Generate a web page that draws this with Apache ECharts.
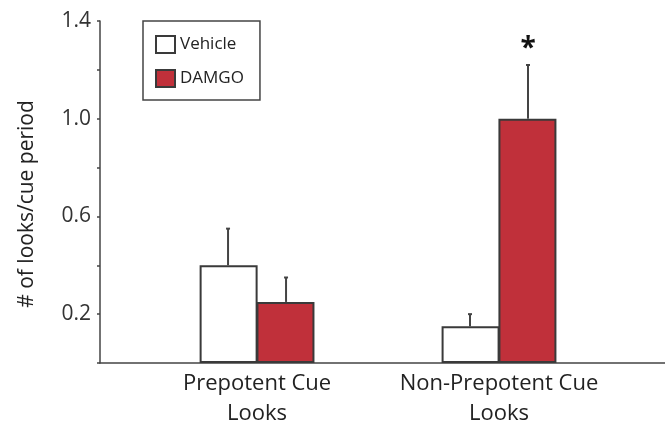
<!DOCTYPE html>
<html>
<head>
<meta charset="utf-8">
<script src="https://cdn.jsdelivr.net/npm/echarts@6/dist/echarts.min.js"></script>
<style>
  html, body { margin: 0; padding: 0; background: #fff; }
  #chart { width: 665px; height: 432px; }
</style>
</head>
<body>
<div id="chart"></div>
<script>
// Looks per cue period, Vehicle vs DAMGO, with SEM error bars
const categories = ['Prepotent Cue\nLooks', 'Non-Prepotent Cue\nLooks'];
const vehicleMean = [0.40, 0.15];
const vehicleSem = [0.15, 0.05];
const damgoMean = [0.25, 1.00];
const damgoSem = [0.10, 0.22];
const significance = ['', '*'];
const yTickLabels = [0.2, 0.6, 1.0, 1.4];

const FONT = '"Open Sans", "DejaVu Sans", sans-serif';
const BAR_W = 58;
const RED = '#c0303a';
const EDGE = '#3a3a3a';

const chart = echarts.init(document.getElementById('chart'));

// bars sit at x = 1, 2 on a numeric axis so the groups can be placed freely
const pos = categories.map((_, i) => i + 1);

const errRows = [];
pos.forEach((x, i) => {
  errRows.push([x, vehicleMean[i], vehicleSem[i], -1, '']);
  errRows.push([x, damgoMean[i], damgoSem[i], 1, significance[i]]);
});

chart.setOption({
  animation: false,
  grid: { left: 100, right: 0, top: 21, bottom: 69 },
  legend: {
    orient: 'vertical',
    left: 143,
    top: 21,
    padding: [14, 16, 12, 12],
    itemGap: 15,
    itemWidth: 19,
    itemHeight: 17,
    icon: 'rect',
    borderColor: '#444',
    borderWidth: 1.5,
    textStyle: { fontFamily: FONT, fontSize: 17, color: '#222' },
    data: ['Vehicle', 'DAMGO']
  },
  xAxis: {
    type: 'value',
    min: 0.351,
    max: 2.686,
    splitLine: { show: false },
    axisTick: { show: false },
    axisLine: { lineStyle: { color: '#444', width: 1.5 } },
    axisLabel: {
      customValues: pos,
      formatter: v => categories[Math.round(v) - 1] || '',
      fontFamily: FONT,
      fontSize: 22,
      lineHeight: 30,
      color: '#222',
      margin: 6
    }
  },
  yAxis: {
    type: 'value',
    min: 0,
    max: 1.4,
    interval: 0.2,
    name: '# of looks/cue period',
    nameLocation: 'middle',
    nameGap: 62,
    nameTextStyle: { fontFamily: FONT, fontSize: 21, color: '#222', padding: [0, 24, 0, 0] },
    splitLine: { show: false },
    axisLine: { show: true, lineStyle: { color: '#444', width: 1.5 } },
    axisTick: { show: true, length: 3, lineStyle: { color: '#444', width: 1.5 } },
    axisLabel: {
      customValues: yTickLabels,
      formatter: v => v.toFixed(1),
      fontFamily: FONT,
      fontSize: 21,
      color: '#333',
      margin: 9
    }
  },
  series: [
    {
      name: 'Vehicle',
      type: 'bar',
      barWidth: BAR_W,
      barGap: '-2%',
      itemStyle: { color: '#fff', borderColor: EDGE, borderWidth: 2 },
      data: pos.map((x, i) => [x, vehicleMean[i]])
    },
    {
      name: 'DAMGO',
      type: 'bar',
      barWidth: BAR_W,
      barGap: '-2%',
      itemStyle: { color: RED, borderColor: EDGE, borderWidth: 2 },
      data: pos.map((x, i) => [x, damgoMean[i]])
    },
    {
      name: 'sem',
      type: 'custom',
      z: 5,
      silent: true,
      renderItem: (params, api) => {
        const x = api.value(0);
        const mean = api.value(1);
        const sem = api.value(2);
        const side = api.value(3);
        const mark = errRows[params.dataIndex][4];
        const base = api.coord([x, mean]);
        const top = api.coord([x, mean + sem]);
        const cx = base[0] + side * BAR_W / 2;
        const children = [
          {
            type: 'line',
            shape: { x1: cx, y1: base[1], x2: cx, y2: top[1] },
            style: { stroke: '#444', lineWidth: 2 }
          },
          {
            type: 'line',
            shape: { x1: cx - 2, y1: top[1], x2: cx + 2, y2: top[1] },
            style: { stroke: '#444', lineWidth: 2 }
          }
        ];
        if (mark) {
          children.push({
            type: 'text',
            style: {
              text: mark,
              x: cx,
              y: top[1] - 2,
              align: 'center',
              verticalAlign: 'bottom',
              fontFamily: FONT,
              fontSize: 28,
              fontWeight: 'bold',
              fill: '#111'
            }
          });
        }
        return { type: 'group', children };
      },
      data: errRows.map(r => r.slice(0, 4))
    }
  ]
});
</script>
</body>
</html>
